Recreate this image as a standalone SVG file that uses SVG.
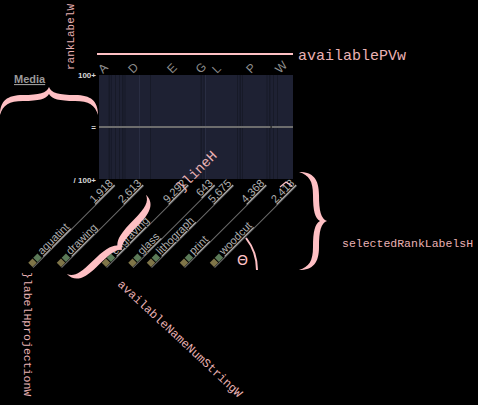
<svg xmlns="http://www.w3.org/2000/svg" xmlns:xlink="http://www.w3.org/1999/xlink" width="478" height="405" viewBox="0 0 478 405">
<defs>
<style>
.ann{font-family:"Liberation Mono",monospace;fill:#eab2b4}
.hdr{font-family:"Liberation Sans",Arial,sans-serif;font-size:12px;fill:#8e8e8e}
.axis{font-family:"Liberation Sans",Arial,sans-serif;font-size:8px;font-weight:bold;fill:#d8d8d8}
.nm,.num{font-family:"Liberation Sans",Arial,sans-serif;font-size:11px;fill:#b0b0b0;text-decoration:underline}
.num{text-anchor:end}
.rl{stroke:#6a6a6a;stroke-width:1}
.sq1{fill:#7f7548}
.sq2{fill:#5b7a58}
.pk{fill:#ffc0c4}
.stripe{fill:#171a28}
.stripeL{fill:#292d42}
</style>
<path id="braceA" d="M -49,28 C -49,14 -42,8 -26,8 C -10,8 -2,6 0,0 C 2,6 10,8 26,8 C 42,8 49,14 49,28 C 46,18 40,14 26,14 C 10,14 3,12 0,7 C -3,12 -10,14 -26,14 C -40,14 -46,18 -49,28 Z"/>
<path id="braceB" d="M -56,22 C -56,11 -48,6 -30,6 C -12,6 -3,5 0,0 C 3,5 12,6 30,6 C 48,6 56,11 56,22 C 53,15 46,13 30,13 C 12,13 4,11 0,6.5 C -4,11 -12,13 -30,13 C -46,13 -53,15 -56,22 Z"/>
</defs>
<rect x="0" y="0" width="478" height="405" fill="#000"/>

<g id="chart">
<rect x="99" y="75" width="194" height="104" fill="#1e2133"/>
<rect class="stripe" x="108.5" y="75" width="1.5" height="104"/>
<rect class="stripe" x="110.8" y="75" width="1" height="104"/>
<rect class="stripe" x="115" y="75" width="1" height="104"/>
<rect class="stripe" x="119" y="75" width="1" height="104"/>
<rect class="stripe" x="122" y="75" width="1.5" height="104"/>
<rect class="stripe" x="124.5" y="75" width="1" height="104"/>
<rect class="stripeL" x="139" y="75" width="1" height="104"/>
<rect class="stripe" x="150" y="75" width="1" height="104"/>
<rect class="stripe" x="200.5" y="75" width="1.5" height="104"/>
<rect class="stripe" x="203.5" y="75" width="1" height="104"/>
<rect class="stripeL" x="205" y="75" width="1" height="104"/>
<rect class="stripe" x="237" y="75" width="1" height="104"/>
<rect class="stripe" x="239.5" y="75" width="1.5" height="104"/>
<rect class="stripe" x="242" y="75" width="1" height="104"/>
<rect class="stripe" x="266.5" y="75" width="1" height="104"/>
<rect class="stripe" x="269" y="75" width="1.5" height="104"/>
<rect class="stripe" x="273" y="75" width="1" height="104"/>
<rect class="stripe" x="277" y="75" width="1" height="104"/>
<line x1="99" y1="127" x2="293" y2="127" stroke="#6d6d6d" stroke-width="2.2"/>
<rect x="270.5" y="125.9" width="1.2" height="2.2" fill="#1a1a1a"/>
<text class="axis" x="96" y="78" text-anchor="end">100+</text>
<text class="axis" x="96" y="183" text-anchor="end">/ 100+</text>
<text class="axis" x="96" y="130" text-anchor="end">=</text>
</g>

<g id="headers">
<text class="hdr" transform="translate(103,74) rotate(-45)">A</text>
<text class="hdr" transform="translate(133,74) rotate(-45)">D</text>
<text class="hdr" transform="translate(172,74) rotate(-45)">E</text>
<text class="hdr" transform="translate(200.5,74) rotate(-45)">G</text>
<text class="hdr" transform="translate(217,74) rotate(-45)">L</text>
<text class="hdr" transform="translate(251,74) rotate(-45)">P</text>
<text class="hdr" transform="translate(280,74) rotate(-45)">W</text>
</g>

<g id="label-aquatint" transform="translate(32.5,267) rotate(-45)">
<line class="rl" x1="0" y1="0.8" x2="116" y2="0.8"/>
<rect class="sq1" x="0" y="-6" width="6" height="6"/><rect class="sq2" x="7" y="-6" width="6" height="6"/>
<text class="nm" x="15" y="-1.5">aquatint</text><text class="num" x="116" y="-1.5">1,918</text>
</g>
<g id="label-drawing" transform="translate(61,267) rotate(-45)">
<line class="rl" x1="0" y1="0.8" x2="116" y2="0.8"/>
<rect class="sq1" x="0" y="-6" width="6" height="6"/><rect class="sq2" x="7" y="-6" width="6" height="6"/>
<text class="nm" x="15" y="-1.5">drawing</text><text class="num" x="116" y="-1.5">2,613</text>
</g>
<g id="label-engraving" transform="translate(106,267) rotate(-45)">
<line class="rl" x1="0" y1="0.8" x2="116" y2="0.8"/>
<rect class="sq1" x="0" y="-6" width="6" height="6"/><rect class="sq2" x="7" y="-6" width="6" height="6"/>
<text class="nm" x="15" y="-1.5">engraving</text><text class="num" x="116" y="-1.5">9,292</text>
</g>
<g id="label-glass" transform="translate(132.5,267) rotate(-45)">
<line class="rl" x1="0" y1="0.8" x2="116" y2="0.8"/>
<rect class="sq1" x="0" y="-6" width="6" height="6"/><rect class="sq2" x="7" y="-6" width="6" height="6"/>
<text class="nm" x="15" y="-1.5">glass</text><text class="num" x="116" y="-1.5">643</text>
</g>
<g id="label-lithograph" transform="translate(151,267) rotate(-45)">
<line class="rl" x1="0" y1="0.8" x2="116" y2="0.8"/>
<rect class="sq1" x="0" y="-6" width="6" height="6"/><rect class="sq2" x="7" y="-6" width="6" height="6"/>
<text class="nm" x="15" y="-1.5">lithograph</text><text class="num" x="116" y="-1.5">5,675</text>
</g>
<g id="label-print" transform="translate(184,267) rotate(-45)">
<line class="rl" x1="0" y1="0.8" x2="116" y2="0.8"/>
<rect class="sq1" x="0" y="-6" width="6" height="6"/><rect class="sq2" x="7" y="-6" width="6" height="6"/>
<text class="nm" x="15" y="-1.5">print</text><text class="num" x="116" y="-1.5">4,368</text>
</g>
<g id="label-woodcut" transform="translate(214,267) rotate(-45)">
<line class="rl" x1="0" y1="0.8" x2="116" y2="0.8"/>
<rect class="sq1" x="0" y="-6" width="6" height="6"/><rect class="sq2" x="7" y="-6" width="6" height="6"/>
<text class="nm" x="15" y="-1.5">woodcut</text><text class="num" x="116" y="-1.5">2,418</text>
</g>

<g id="media-title">
<text x="14" y="83" font-family="Liberation Sans, Arial, sans-serif" font-size="11" font-weight="bold" fill="#9a9a9a" text-decoration="underline">Media</text>
</g>

<g id="connectors">
<use href="#braceA" class="pk" transform="translate(49,87)"/>
<use href="#braceA" class="pk" transform="translate(327,221) rotate(90)"/>
<use href="#braceB" class="pk" transform="translate(122,250) rotate(135)"/>
<line x1="97" y1="54" x2="293" y2="54" stroke="#ffc0c4" stroke-width="2"/>
<path d="M 246,238 A 52 52 0 0 1 257,270" fill="none" stroke="#ffc0c4" stroke-width="2"/>
<polyline points="280,187 286,182 292,186" fill="none" stroke="#ffc0c4" stroke-width="1.2"/>
</g>

<g id="annotations">
<text class="ann" x="298" y="60" font-size="15">availablePVw</text>
<text class="ann" x="342" y="247" font-size="11.5">selectedRankLabelsH</text>
<text class="ann" font-size="11" transform="translate(74,70) rotate(-90)">rankLabelW</text>
<text class="ann" font-size="11.5" transform="translate(24,272) rotate(90)">}labelHprojectionW</text>
<text class="ann" font-size="12" transform="translate(117,285) rotate(43)">availableNameNumStringW</text>
<text class="ann" font-size="14" transform="translate(182,192) rotate(-45)">}lineH</text>
<text x="242.5" y="265" text-anchor="middle" font-family="DejaVu Sans, sans-serif" font-size="14" fill="#ffc0c4">Θ</text>
</g>
</svg>
